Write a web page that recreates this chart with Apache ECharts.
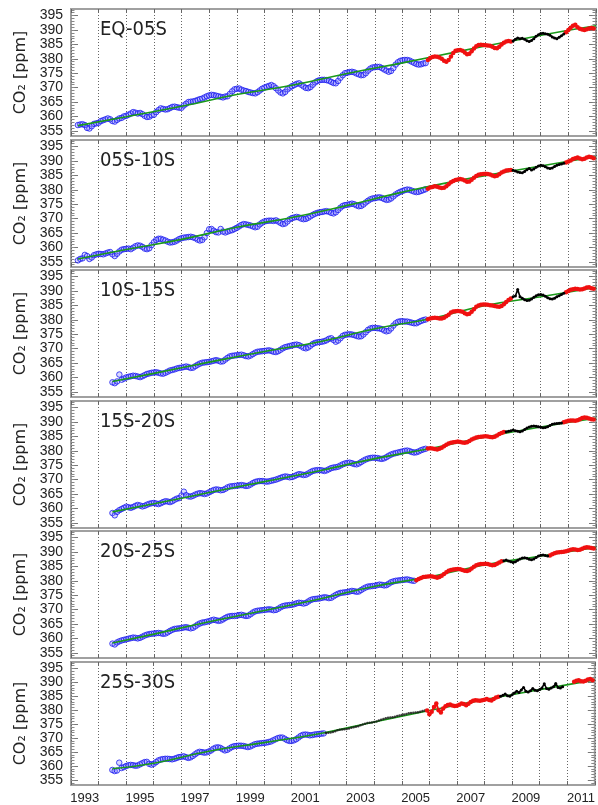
<!DOCTYPE html>
<html><head><meta charset="utf-8">
<script src="https://cdn.jsdelivr.net/npm/echarts@6/dist/echarts.min.js"></script>
<style>html,body{margin:0;padding:0;background:#fff}#c{width:598px;height:805px}</style>
</head><body><div id="c"></div>
<script>
// ---------- data ----------
const REGIONS = ['EQ-05S','05S-10S','10S-15S','15S-20S','20S-25S','25S-30S'];
const Y_TICK_LABELS = [355,360,365,370,375,380,385,390,395];
const YEAR_LABELS = [1993,1995,1997,1999,2001,2003,2005,2007,2009,2011];

// monthly values; *Start = decimal year of first value
const blueStart  = [1993.25, 1993.25, 1994.5, 1994.5, 1994.5, 1994.5];
const redStart   = [2005.9167, 2005.9167, 2005.9167, 2005.9167, 2005.5, 2005.9167];
const blackStart = [2009.0, 2009.0, 2009.0, 2008.75, 2008.6667, 2008.5833];
const red2Start  = [2010.9167, 2010.9167, 2010.9167, 2010.8333, 2010.3333, 2011.25];
const p6Black0Start = 2002.25;

const p1Blue = [357.0,357.2,357.3,357.0,356.0,355.8,356.6,357.4,357.6,
 357.8,358.4,358.7,359.0,359.3,359.0,358.4,358.2,358.8,359.3,359.5,360.0,
 360.2,360.6,361.0,361.5,361.3,361.0,361.2,360.8,360.2,359.8,359.9,360.4,
 360.6,361.5,362.2,362.8,362.6,362.4,362.5,362.9,363.3,363.4,363.2,363.0,
 363.0,363.8,364.4,365.0,365.1,365.2,365.4,365.7,366.0,366.2,366.6,367.0,
 367.3,367.5,367.4,367.2,367.0,366.8,366.6,366.9,367.0,367.8,368.7,369.4,
 369.6,369.7,369.3,369.0,368.8,368.5,368.3,368.1,368.0,368.4,369.0,369.6,
 370.0,370.3,370.6,370.9,370.5,369.8,369.0,368.3,368.0,368.5,369.4,370.0,
 370.5,370.9,371.3,371.5,371.0,370.4,369.9,369.8,370.2,371.0,371.8,372.3,
 372.6,372.7,372.7,372.6,372.4,372.0,371.6,371.5,372.3,373.4,374.3,375.0,
 375.2,375.4,375.5,375.3,374.9,374.6,374.3,374.4,375.0,375.9,376.6,377.0,
 377.1,377.2,377.2,376.8,376.3,375.9,375.5,375.8,376.8,378.0,378.8,379.3,
 379.5,379.6,379.6,379.4,379.0,378.6,378.2,378.0,378.1,378.4,378.5];
const p1Red = [379.6,
 380.3,380.6,380.8,380.7,380.5,380.0,379.3,379.0,379.6,380.8,382.0,382.8,
 383.0,383.1,382.8,382.2,381.6,381.8,382.6,383.6,384.4,384.8,384.9,384.8,
 384.7,384.6,384.5,384.2,383.8,383.7,384.2,385.0,385.6,386.0,386.2,386.0];
const p1Black = [386.2,386.8,387.2,387.0,387.1,386.8,386.3,386.0,386.4,387.0,387.8,388.4,
 388.8,388.9,388.7,388.5,388.2,387.6,387.2,387.0,387.5,388.0,388.6];
const p1Red2 = [389.2,390.0,390.8,391.5,391.8,391.0,390.4,390.2,390.0,390.3,390.5,390.7,390.5];
const p1Trend = [[1993.25,356.8],[1995,359.9],[1997,363.5],[1999,367.6],[2001,370.8],[2003,374.9],[2005,378.6],[2007,382.5],[2009,386.3],[2011,389.9],[2012,391.5]];

const p2Blue = [355.5,356.0,356.2,357.4,357.0,356.0,356.5,357.3,357.6,
 357.8,357.7,357.6,357.9,358.2,358.4,357.6,357.0,357.8,358.6,359.2,359.4,
 359.5,359.6,359.4,359.9,360.4,360.7,360.6,360.2,359.6,359.4,359.7,360.8,
 361.8,362.6,363.0,363.0,362.7,362.4,362.0,361.7,361.8,362.0,362.4,362.9,
 363.2,363.4,363.5,363.6,363.7,363.5,363.2,362.7,362.4,362.6,363.5,365.0,
 366.3,366.4,365.8,365.3,365.2,366.4,365.5,365.2,365.5,365.8,366.0,366.4,
 366.8,367.3,367.8,368.1,368.0,367.8,367.6,367.3,367.0,367.2,368.0,368.6,
 369.0,369.2,369.3,369.3,369.2,369.4,369.0,368.5,368.1,368.3,369.0,369.8,
 370.2,370.4,370.6,370.4,370.0,369.8,369.9,370.3,370.8,371.3,371.7,372.0,
 372.2,372.3,372.5,372.6,372.4,372.0,371.8,372.2,373.0,373.8,374.4,374.7,
 374.8,375.0,375.2,375.0,374.6,374.3,374.4,374.9,375.6,376.2,376.7,377.0,
 377.1,377.3,377.4,377.2,376.8,376.5,376.6,377.0,377.7,378.4,378.9,379.3,
 379.6,379.9,380.1,380.0,379.7,379.4,379.2,379.3,379.6,379.9,380.2];
const p2Red = [380.4,
 380.8,381.0,381.2,381.1,380.8,380.6,380.7,381.2,381.9,382.6,383.1,383.4,
 383.6,383.8,383.6,383.2,382.8,382.9,383.5,384.2,384.8,385.2,385.4,385.5,
 385.6,385.5,385.3,385.0,384.7,384.9,385.4,386.0,386.4,386.7,386.8,386.9];
const p2Black = [386.8,386.5,386.2,386.0,385.9,386.4,387.0,387.4,386.9,387.2,387.8,388.3,
 388.5,388.4,388.0,387.6,387.4,387.6,388.1,388.5,388.8,389.0,389.2];
const p2Red2 = [389.5,389.8,390.2,390.7,391.0,391.2,390.9,390.6,390.8,391.2,391.5,391.3,391.0];
const p2Trend = [[1993.25,356.0],[1995,359.3],[1997,362.8],[1999,367.0],[2001,370.4],[2003,374.6],[2005,379.2],[2007,383.2],[2009,386.6],[2011,389.9],[2012,391.4]];

const p3Blue = [358.3,358.0,358.6,361.0,359.2,359.6,
 360.0,360.2,360.4,360.6,360.5,360.3,360.1,360.4,360.8,361.2,361.4,361.6,
 361.7,361.8,361.6,361.4,361.3,361.6,362.0,362.4,362.6,362.8,363.1,363.3,
 363.4,363.6,363.8,363.6,363.3,363.4,363.9,364.4,364.8,365.1,365.2,365.3,
 365.4,365.6,365.8,366.0,365.8,365.5,365.6,366.2,366.8,367.3,367.5,367.6,
 367.7,367.8,367.9,367.7,367.4,367.3,367.6,368.1,368.6,368.9,369.0,369.1,
 369.2,369.3,369.4,369.2,368.9,368.8,369.1,369.6,370.1,370.5,370.7,370.9,
 371.1,371.3,371.4,371.2,370.8,370.3,370.1,370.4,371.0,371.6,372.0,372.2,
 372.3,372.4,372.6,372.9,373.4,373.6,373.0,372.4,372.8,373.6,374.4,374.8,
 374.9,375.0,374.9,374.7,374.4,374.2,374.3,374.9,375.7,376.5,377.0,377.2,
 377.2,377.1,377.0,376.8,376.3,376.0,376.2,377.0,378.0,378.8,379.3,379.5,
 379.5,379.4,379.4,379.2,379.0,378.8,378.8,379.2,379.6,379.9,380.1];
const p3Red = [380.2,
 380.5,380.6,380.7,380.6,380.5,380.5,380.7,381.2,381.8,382.5,382.9,383.0,
 383.1,383.0,382.8,382.3,381.9,382.1,382.8,383.7,384.5,385.0,385.2,385.3,
 385.3,385.2,385.1,385.0,384.8,384.6,384.5,384.8,385.4,386.2,386.9,387.4];
const p3Black = [388.0,388.3,390.5,388.0,387.5,387.0,386.7,386.8,387.2,387.8,388.4,388.7,
 388.8,388.6,388.2,387.7,387.3,387.2,387.5,388.0,388.4,388.8,389.2];
const p3Red2 = [389.6,390.0,390.4,390.6,390.8,390.7,390.5,390.6,390.9,391.2,391.3,391.0,390.8];
const p3Trend = [[1994.5,358.6],[1996,361.4],[1998,365.3],[2000,369.0],[2002,372.4],[2004,376.9],[2006,380.4],[2008,385.0],[2010,388.0],[2012,391.2]];

const p4Blue = [358.4,357.6,358.8,359.4,359.8,360.2,
 360.6,360.4,360.2,360.5,360.9,361.2,361.0,360.7,360.9,361.3,361.6,361.8,
 361.9,361.7,361.5,361.8,362.2,362.5,362.4,362.2,362.5,363.0,363.4,363.6,
 364.5,365.8,364.6,364.2,364.1,364.4,364.8,365.1,365.3,365.2,365.0,365.2,
 365.6,366.0,366.4,366.6,366.5,366.3,366.4,366.8,367.3,367.6,367.7,367.8,
 367.9,368.0,368.1,368.0,367.8,367.9,368.3,368.8,369.2,369.4,369.5,369.5,
 369.4,369.3,369.4,369.6,369.8,370.0,370.3,370.6,370.9,371.1,371.0,370.8,
 370.9,371.2,371.6,371.9,371.8,371.6,371.7,372.1,372.6,373.0,373.2,373.3,
 373.3,373.2,373.0,373.2,373.6,374.0,374.2,374.3,374.5,374.9,375.3,375.6,
 375.8,375.9,375.7,375.4,375.3,375.6,376.1,376.6,377.0,377.3,377.5,377.6,
 377.6,377.5,377.3,377.2,377.4,377.8,378.3,378.7,379.0,379.2,379.4,379.6,
 379.8,380.0,380.1,379.9,379.6,379.4,379.5,379.8,380.2,380.5,380.7];
const p4Red = [380.8,
 380.9,380.8,380.6,380.5,380.7,381.1,381.6,382.1,382.5,382.8,383.0,383.1,
 383.2,383.1,382.9,382.8,383.0,383.4,383.9,384.3,384.6,384.8,384.9,385.0,
 385.1,385.0,384.8,384.7,384.9,385.3,385.8,386.2,386.5];
const p4Black = [386.6,386.8,387.0,
 387.2,387.0,386.8,386.6,386.9,387.4,387.9,388.3,388.5,388.6,388.5,388.4,
 388.2,388.0,388.1,388.4,388.8,389.2,389.4,389.5,389.6,389.7];
const p4Red2 = [389.9,390.2,390.4,390.5,390.5,390.4,390.6,391.0,391.4,391.6,391.5,391.2,391.0,390.9];
const p4Trend = [[1994.5,358.8],[1996,361.6],[1998,365.5],[2000,369.3],[2002,373.1],[2004,377.3],[2006,380.8],[2008,384.8],[2010,388.3],[2012,391.3]];

const p5Blue = [358.2,357.9,358.6,359.0,359.3,359.5,
 359.7,359.9,360.1,360.3,360.2,360.0,360.2,360.6,361.0,361.3,361.5,361.6,
 361.7,361.8,361.9,361.8,361.6,361.7,362.1,362.6,363.0,363.3,363.4,363.5,
 363.6,363.8,363.9,363.7,363.5,363.7,364.2,364.8,365.2,365.5,365.6,365.8,
 366.0,366.3,366.5,366.3,366.1,366.2,366.6,367.1,367.5,367.7,367.8,367.8,
 367.9,368.1,368.2,368.0,367.8,367.9,368.4,369.0,369.4,369.6,369.7,369.8,
 369.9,370.0,370.1,370.0,369.8,369.9,370.3,370.8,371.2,371.4,371.5,371.6,
 371.7,371.9,372.2,372.4,372.3,372.1,372.3,372.8,373.3,373.6,373.7,373.8,
 373.9,374.1,374.3,374.2,374.0,374.1,374.6,375.1,375.5,375.8,375.9,376.0,
 376.1,376.3,376.5,376.4,376.2,376.3,376.8,377.3,377.7,378.0,378.1,378.2,
 378.3,378.5,378.7,378.6,378.4,378.5,379.0,379.5,379.8,380.0,380.1,380.2,
 380.3,380.4,380.5,380.3,380.1,380.0];
const p5Red = [380.2,380.6,381.0,381.3,381.4,381.5,
 381.6,381.5,381.3,381.1,381.3,381.8,382.4,383.0,383.5,383.8,383.9,384.0,
 384.1,384.0,383.8,383.5,383.4,383.7,384.3,384.9,385.4,385.7,385.8,385.8,
 385.9,385.8,385.6,385.4,385.5,385.9,386.4,386.8];
const p5Black = [387.0,387.2,386.9,386.6,
 386.4,386.6,387.1,387.6,387.9,388.0,387.8,387.5,387.3,387.6,388.1,388.6,
 388.9,389.0,388.8,388.6];
const p5Red2 = [388.8,389.2,389.6,389.8,389.9,390.0,390.1,390.3,
 390.5,390.8,391.0,390.9,390.7,390.8,391.1,391.5,391.7,391.6,391.4,391.2];
const p5Trend = [[1994.5,358.4],[1996,361.5],[1998,365.8],[2000,369.7],[2002,373.7],[2004,378.1],[2006,381.4],[2008,385.6],[2010,388.6],[2012,391.6]];

const p6Blue = [358.6,358.2,358.4,361.2,359.3,359.6,
 360.0,360.3,360.4,360.3,360.1,360.2,360.6,361.0,361.4,361.5,360.8,360.5,
 360.8,361.4,362.0,362.3,362.5,362.6,362.6,362.5,362.4,362.6,362.9,363.2,
 363.3,363.5,363.2,362.9,363.1,363.6,364.2,364.8,365.1,365.0,364.8,364.9,
 365.2,365.6,366.2,366.6,366.7,366.5,366.0,365.6,365.8,366.3,366.8,367.1,
 367.2,367.3,367.3,367.2,367.0,366.8,367.0,367.4,367.8,368.0,368.1,368.2,
 368.3,368.4,368.6,368.8,369.2,369.6,370.0,370.2,370.2,369.8,369.3,369.0,
 369.0,369.2,369.6,370.2,370.8,371.2,371.3,371.2,371.0,371.1,371.3,371.4,
 371.5,371.6,371.7];
const p6Black0 = [371.8,371.9,372.0,372.2,372.5,372.8,373.0,373.1,373.2,
 373.3,373.5,373.7,373.9,374.1,374.3,374.6,374.9,375.2,375.4,375.5,375.6,
 375.8,376.0,376.3,376.6,376.9,377.1,377.3,377.4,377.5,377.7,377.9,378.1,
 378.3,378.5,378.7,378.9,379.0,379.1,379.2,379.3,379.5,379.7,379.9];
const p6Red = [379.9,
 378.6,379.5,381.2,382.4,380.0,379.2,380.6,381.4,381.9,382.1,381.7,381.5,
 381.6,382.0,382.4,382.2,381.8,382.3,383.0,383.4,383.6,383.5,383.4,383.6,
 383.8,384.0,383.7,383.5,384.0,384.6,384.8];
const p6Black = [385.0,385.4,385.8,385.2,385.0,
 385.6,386.2,386.8,386.4,387.3,388.2,386.8,386.5,387.0,387.8,387.2,387.0,
 387.4,388.0,389.5,387.8,387.5,388.0,388.4,389.6,388.2,388.0,388.4];
const p6Red2 = [390.2,390.6,390.8,390.4,390.3,390.6,391.0,391.2,390.8];
const p6Trend = [[1994.5,359.0],[1996,361.0],[1998,365.3],[2000,368.4],[2002,371.6],[2004,375.8],[2006,379.9],[2008,383.8],[2010,387.4],[2012,390.9]];

const BLUE = [p1Blue,p2Blue,p3Blue,p4Blue,p5Blue,p6Blue];
const RED = [p1Red,p2Red,p3Red,p4Red,p5Red,p6Red];
const BLACK = [p1Black,p2Black,p3Black,p4Black,p5Black,p6Black];
const RED2 = [p1Red2,p2Red2,p3Red2,p4Red2,p5Red2,p6Red2];
const TREND = [p1Trend,p2Trend,p3Trend,p4Trend,p5Trend,p6Trend];

// ---------- chart ----------
const FONT = "'Liberation Sans', Arial, sans-serif";
const monthly = (start, vals) => vals.map((v, i) => [start + i / 12, v]);
const minorTicks = []; for (let v = 354; v <= 397; v++) minorTicks.push(v);
const YMIN = 353.2, YMAX = 397.3;

const grids = [], xAxes = [], yAxes = [], series = [], titles = [];
for (let k = 0; k < 6; k++) {
  const top = Math.round(9 + 130.6 * k);
  grids.push({left: 71, width: 525, top: top, height: 127, show: true,
    borderColor: '#a0a0a0', borderWidth: 2, backgroundColor: '#fff'});
  const xi = xAxes.length;
  xAxes.push({type: 'value', gridIndex: k, min: 1993, max: 2012, interval: 1, position: 'bottom',
    axisLine: {show: false}, axisLabel: {show: false},
    axisTick: {show: true, inside: true, length: 4, lineStyle: {color: '#666'}},
    splitLine: {show: true, lineStyle: {type: [1, 2], color: '#666', width: 1}}});
  xAxes.push({type: 'value', gridIndex: k, min: 1993, max: 2012, interval: 1, position: 'top',
    axisLine: {show: false}, axisLabel: {show: false}, splitLine: {show: false},
    axisTick: {show: true, inside: true, length: 4, lineStyle: {color: '#666'}}});
  if (k === 5) {
    xAxes.push({type: 'value', gridIndex: k, min: 1993, max: 2012, position: 'bottom',
      axisLine: {show: false}, axisTick: {show: false}, splitLine: {show: false},
      axisLabel: {show: true, customValues: YEAR_LABELS.map(y => y + 0.5),
        formatter: v => String(Math.floor(v)), fontSize: 13, color: '#222', fontFamily: FONT, margin: 7}});
  }
  const yi = yAxes.length;
  yAxes.push({type: 'value', gridIndex: k, min: YMIN, max: YMAX, position: 'left',
    axisLine: {show: false}, splitLine: {show: false},
    axisLabel: {customValues: Y_TICK_LABELS, fontSize: 14, color: '#222', fontFamily: FONT, margin: 8},
    axisTick: {customValues: Y_TICK_LABELS, inside: true, length: 7, lineStyle: {color: '#777'}},
    name: 'CO\u2082 [ppm]', nameLocation: 'middle', nameRotate: 90, nameGap: 36,
    nameTextStyle: {fontFamily: "'DejaVu Sans', 'Liberation Sans', sans-serif", fontSize: 16, color: '#222'}});
  yAxes.push({type: 'value', gridIndex: k, min: YMIN, max: YMAX, position: 'left',
    axisLine: {show: false}, splitLine: {show: false}, axisLabel: {show: false},
    axisTick: {customValues: minorTicks, inside: true, length: 3.5, lineStyle: {color: '#888'}}});
  yAxes.push({type: 'value', gridIndex: k, min: YMIN, max: YMAX, position: 'right',
    axisLine: {show: false}, splitLine: {show: false}, axisLabel: {show: false},
    axisTick: {customValues: Y_TICK_LABELS, inside: true, length: 7, lineStyle: {color: '#777'}}});
  yAxes.push({type: 'value', gridIndex: k, min: YMIN, max: YMAX, position: 'right',
    axisLine: {show: false}, splitLine: {show: false}, axisLabel: {show: false},
    axisTick: {customValues: minorTicks, inside: true, length: 3.5, lineStyle: {color: '#888'}}});

  titles.push({text: REGIONS[k], left: 100, top: top + 11, padding: 0,
    textStyle: {fontSize: 20, fontWeight: 'normal', color: '#222',
      fontFamily: "'Liberation Sans Narrow', 'DejaVu Sans Condensed', 'Liberation Sans', sans-serif"}});

  const ax = {xAxisIndex: xi, yAxisIndex: yi};
  series.push(Object.assign({type: 'scatter', data: monthly(blueStart[k], BLUE[k]),
    symbol: 'circle', symbolSize: 5.5,
    itemStyle: {color: 'rgba(120,120,255,0.35)', borderColor: '#1c1cf0', borderWidth: 1}, z: 2}, ax));
  series.push(Object.assign({type: 'line', data: TREND[k], smooth: true, showSymbol: false,
    lineStyle: {color: '#1a9a1a', width: 1.6}, z: 3}, ax));
  if (k === 5) {
    series.push(Object.assign({type: 'scatter', data: monthly(p6Black0Start, p6Black0),
      symbol: 'circle', symbolSize: 2.5, itemStyle: {color: '#111'}, z: 4}, ax));
  }
  series.push(Object.assign({type: 'line', data: monthly(redStart[k], RED[k]),
    symbol: 'circle', symbolSize: 4.5, showAllSymbol: true,
    lineStyle: {color: '#f01010', width: 2}, itemStyle: {color: '#f01010'}, z: 4}, ax));
  series.push(Object.assign({type: 'line', data: monthly(blackStart[k], BLACK[k]),
    symbol: 'circle', symbolSize: 3, showAllSymbol: true,
    lineStyle: {color: '#000', width: 1.6}, itemStyle: {color: '#000'}, z: 5}, ax));
  series.push(Object.assign({type: 'line', data: monthly(red2Start[k], RED2[k]),
    symbol: 'circle', symbolSize: 4.5, showAllSymbol: true,
    lineStyle: {color: '#f01010', width: 2}, itemStyle: {color: '#f01010'}, z: 4}, ax));
}

const chart = echarts.init(document.getElementById('c'));
chart.setOption({animation: false, backgroundColor: '#fff', textStyle: {fontFamily: FONT},
  title: titles, grid: grids, xAxis: xAxes, yAxis: yAxes, series: series});
</script></body></html>
